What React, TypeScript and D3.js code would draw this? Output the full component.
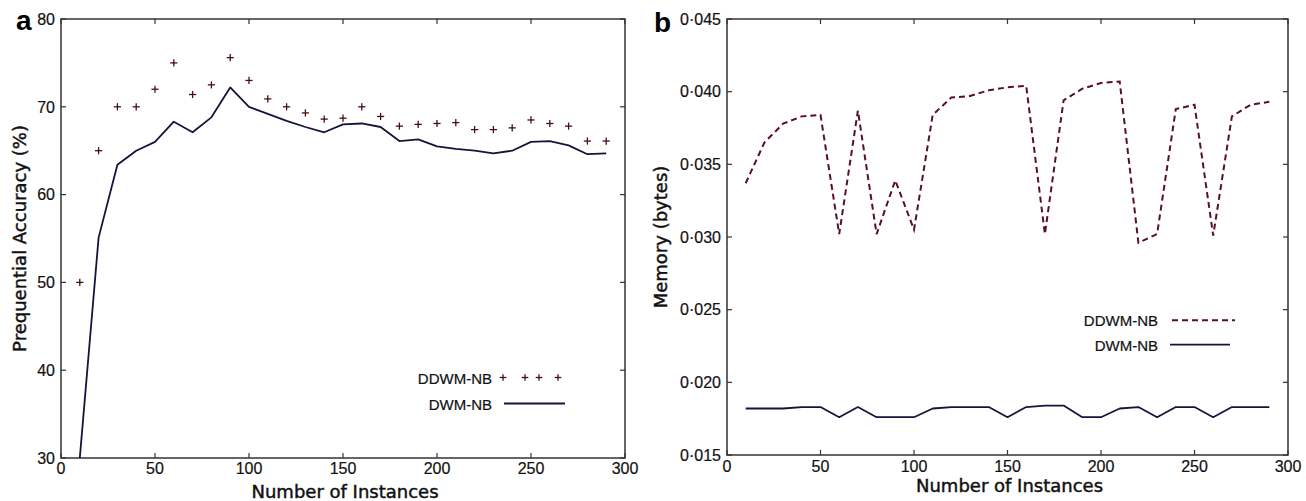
import React from "react";
import * as d3 from "d3";

// ---- data ----
const instances = [10, 20, 30, 40, 50, 60, 70, 80, 90, 100, 110, 120, 130, 140, 150, 160, 170, 180, 190, 200, 210, 220, 230, 240, 250, 260, 270, 280, 290];

const ddwmAccuracy = [50, 65, 70, 70, 72, 75, 71.4, 72.5, 75.6, 73, 70.9, 70, 69.3, 68.6, 68.7, 70, 68.9, 67.8, 68, 68.1, 68.2, 67.4, 67.4, 67.6, 68.5, 68.1, 67.8, 66.1, 66.1];
const dwmAccuracy = [30, 55.1, 63.4, 65, 66, 68.3, 67.1, 68.8, 72.2, 70, 69.2, 68.4, 67.7, 67.1, 68, 68.1, 67.7, 66.1, 66.3, 65.5, 65.2, 65, 64.7, 65, 66, 66.1, 65.6, 64.6, 64.7];

const ddwmMemory = [0.0337, 0.0365, 0.0378, 0.0383, 0.0384, 0.0302, 0.0387, 0.0302, 0.0339, 0.0305, 0.0384, 0.0396, 0.0397, 0.0401, 0.0403, 0.0404, 0.0302, 0.0394, 0.0402, 0.0406, 0.0407, 0.0296, 0.0302, 0.0388, 0.0391, 0.0301, 0.0383, 0.0391, 0.0393];
const dwmMemory = [0.0182, 0.0182, 0.0182, 0.0183, 0.0183, 0.0176, 0.0183, 0.0176, 0.0176, 0.0176, 0.0182, 0.0183, 0.0183, 0.0183, 0.0176, 0.0183, 0.0184, 0.0184, 0.0176, 0.0176, 0.0182, 0.0183, 0.0176, 0.0183, 0.0183, 0.0176, 0.0183, 0.0183, 0.0183];

const xTicks = [0, 50, 100, 150, 200, 250, 300];
const accTicks = [30, 40, 50, 60, 70, 80];
const memTicks = [0.015, 0.02, 0.025, 0.03, 0.035, 0.04, 0.045];

const seriesNames = ["DDWM-NB", "DWM-NB"];

// ---- style ----
const AXIS = "#333";
const RED = "#4a0c18";
const DASHRED = "#5a1020";
const NAVY = "#14143c";
const TICKFONT = "'Liberation Sans', Arial, sans-serif";
const LABELFONT = "'DejaVu Sans', sans-serif";

type Box = { left: number; right: number; top: number; bottom: number };

function Frame({ box, x, y, yTicks, fmt, xLabelY, yLabel, yLabelX, tickBase }: any) {
  const T = 5;
  return (
    <g>
      <rect x={box.left} y={box.top} width={box.right - box.left} height={box.bottom - box.top} fill="none" stroke={AXIS} strokeWidth={1.5} />
      {xTicks.map((t) => (
        <g key={"x" + t}>
          <line x1={x(t)} x2={x(t)} y1={box.bottom} y2={box.bottom - T} stroke={AXIS} strokeWidth={1.2} />
          <line x1={x(t)} x2={x(t)} y1={box.top} y2={box.top + T} stroke={AXIS} strokeWidth={1.2} />
          <text x={x(t)} y={tickBase} textAnchor="middle" fontFamily={TICKFONT} fontSize={16} fill="#111" stroke="#111" strokeWidth={0.2}>{t}</text>
        </g>
      ))}
      {yTicks.map((t: number) => (
        <g key={"y" + t}>
          <line x1={box.left} x2={box.left + T} y1={y(t)} y2={y(t)} stroke={AXIS} strokeWidth={1.2} />
          <line x1={box.right} x2={box.right - T} y1={y(t)} y2={y(t)} stroke={AXIS} strokeWidth={1.2} />
          <text x={box.left - 6} y={y(t)} dy="0.36em" textAnchor="end" fontFamily={TICKFONT} fontSize={16} fill="#111" stroke="#111" strokeWidth={0.2}>{fmt(t)}</text>
        </g>
      ))}
      <text x={(box.left + box.right) / 2 + 2} y={xLabelY} textAnchor="middle" fontFamily={LABELFONT} fontSize={18} fill="#111" stroke="#111" strokeWidth={0.45}>Number of Instances</text>
      <text transform={`translate(${yLabelX},${(box.top + box.bottom) / 2}) rotate(-90)`} textAnchor="middle" fontFamily={LABELFONT} fontSize={18} fill="#111" stroke="#111" strokeWidth={0.45}>{yLabel}</text>
    </g>
  );
}

function cross(cx: number, cy: number, s: number, key: string) {
  return (
    <g key={key}>
      <line x1={cx - s} x2={cx + s} y1={cy} y2={cy} stroke={RED} strokeWidth={1.3} />
      <line x1={cx} x2={cx} y1={cy - s} y2={cy + s} stroke={RED} strokeWidth={1.3} />
    </g>
  );
}

export default function App() {
  const boxA: Box = { left: 61, right: 625, top: 19, bottom: 458 };
  const boxB: Box = { left: 727, right: 1288, top: 19, bottom: 455 };

  const xA = d3.scaleLinear().domain([0, 300]).range([boxA.left, boxA.right]);
  const yA = d3.scaleLinear().domain([30, 80]).range([boxA.bottom, boxA.top]);
  const xB = d3.scaleLinear().domain([0, 300]).range([boxB.left, boxB.right]);
  const yB = d3.scaleLinear().domain([0.015, 0.045]).range([boxB.bottom, boxB.top]);

  const lineA = d3.line<number>().x((_, i) => xA(instances[i])).y((d) => yA(d));
  const lineB = d3.line<number>().x((_, i) => xB(instances[i])).y((d) => yB(d));

  const memFmt = (v: number) => d3.format(".3f")(v).replace(".", "·");

  const legA = { textX: 492, y1: 384, y2: 410 };
  const legB = { textX: 1158, y1: 326, y2: 351 };

  return (
    <svg width={1306} height={501} style={{ position: "absolute", left: 0, top: 0, background: "#fff" }}>
      <rect x={0} y={0} width={1306} height={501} fill="#fff" />
      {/* Panel a */}
      <text x={16} y={30} fontFamily="'Liberation Sans', Arial, sans-serif" fontWeight="bold" fontSize={28} fill="#000">a</text>
      <Frame box={boxA} x={xA} y={yA} yTicks={accTicks} fmt={(v: number) => String(v)} xLabelY={498} yLabel="Prequential Accuracy (%)" yLabelX={26} tickBase={474} />
      <defs>
        <clipPath id="clipA"><rect x={boxA.left} y={boxA.top} width={boxA.right - boxA.left} height={boxA.bottom - boxA.top} /></clipPath>
        <clipPath id="clipB"><rect x={boxB.left} y={boxB.top} width={boxB.right - boxB.left} height={boxB.bottom - boxB.top} /></clipPath>
      </defs>
      <g clipPath="url(#clipA)">
        <path d={lineA(dwmAccuracy) || ""} fill="none" stroke={NAVY} strokeWidth={1.8} strokeLinejoin="round" />
        {ddwmAccuracy.map((v, i) => cross(xA(instances[i]), yA(v), 3.6, "c" + i))}
      </g>
      {/* legend a */}
      <text x={legA.textX} y={legA.y1} textAnchor="end" fontFamily={TICKFONT} fontSize={15} fill="#111" stroke="#111" strokeWidth={0.2}>{seriesNames[0]}</text>
      {[11, 33, 47, 66].map((dx, i) => cross(legA.textX + dx, legA.y1 - 6.5, 3.3, "lc" + i))}
      <text x={legA.textX} y={legA.y2} textAnchor="end" fontFamily={TICKFONT} fontSize={15} fill="#111" stroke="#111" strokeWidth={0.2}>{seriesNames[1]}</text>
      <line x1={legA.textX + 12} x2={legA.textX + 73} y1={legA.y2 - 6.5} y2={legA.y2 - 6.5} stroke={NAVY} strokeWidth={1.8} />

      {/* Panel b */}
      <text x={654} y={32} fontFamily="'Liberation Sans', Arial, sans-serif" fontWeight="bold" fontSize={28} fill="#000">b</text>
      <Frame box={boxB} x={xB} y={yB} yTicks={memTicks} fmt={memFmt} xLabelY={492} yLabel="Memory (bytes)" yLabelX={667} tickBase={472} />
      <g clipPath="url(#clipB)">
        <path d={lineB(ddwmMemory) || ""} fill="none" stroke={DASHRED} strokeWidth={2} strokeDasharray="6,4" />
        <path d={lineB(dwmMemory) || ""} fill="none" stroke={NAVY} strokeWidth={1.8} strokeLinejoin="round" />
      </g>
      {/* legend b */}
      <text x={legB.textX} y={legB.y1} textAnchor="end" fontFamily={TICKFONT} fontSize={15} fill="#111" stroke="#111" strokeWidth={0.2}>{seriesNames[0]}</text>
      <line x1={legB.textX + 14} x2={legB.textX + 77} y1={legB.y1 - 5.7} y2={legB.y1 - 5.7} stroke={DASHRED} strokeWidth={2} strokeDasharray="6,4" />
      <text x={legB.textX} y={legB.y2} textAnchor="end" fontFamily={TICKFONT} fontSize={15} fill="#111" stroke="#111" strokeWidth={0.2}>{seriesNames[1]}</text>
      <line x1={legB.textX + 12} x2={legB.textX + 72} y1={legB.y2 - 6.3} y2={legB.y2 - 6.3} stroke={NAVY} strokeWidth={1.8} />
    </svg>
  );
}
